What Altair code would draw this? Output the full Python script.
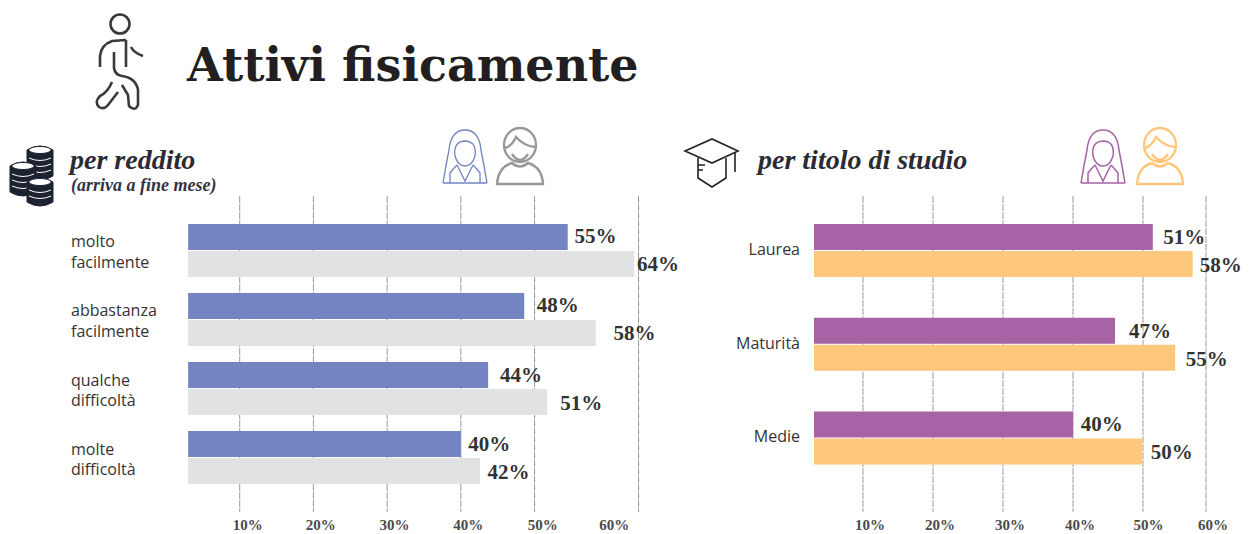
import re
import altair as alt
import pandas as pd

# ---------- data ----------
inc_cats = ["molto\nfacilmente", "abbastanza\nfacilmente", "qualche\ndifficoltà", "molte\ndifficoltà"]
inc_f_bar = [54.5, 48.6, 43.7, 40.0]
inc_m_bar = [63.5, 58.3, 51.7, 42.6]
inc_f_lab = ["55%", "48%", "44%", "40%"]
inc_m_lab = ["64%", "58%", "51%", "42%"]
inc_f_pos = [55.4, 50.3, 45.3, 41.0]
inc_m_pos = [63.9, 60.7, 53.5, 43.6]
inc_grid = [10, 20, 30, 40, 50, 64.1]
inc_tick_pos = [11.1, 21, 31, 41, 51.1, 60.8]

edu_cats = ["Laurea", "Maturità", "Medie"]
edu_f_bar = [51.4, 46.0, 40.0]
edu_m_bar = [57.1, 54.6, 49.9]
edu_f_lab = ["51%", "47%", "40%"]
edu_m_lab = ["58%", "55%", "50%"]
edu_f_pos = [52.9, 48.0, 41.1]
edu_m_pos = [58.1, 56.1, 51.1]
edu_grid = [10, 20, 30, 40, 50, 59]
edu_tick_pos = [11, 21, 31, 41, 50.8, 60]

tick_text = ["10%", "20%", "30%", "40%", "50%", "60%"]
INK = "#231f20"
SERIF = "Liberation Serif"
SLAB = "DejaVu Serif"
SANS = "Open Sans"
ONE = pd.DataFrame({"a": [0]})
TOP, OX, W, H = 8, 8, 1234, 526


def norm_icon(path, color, sw=1.5, fill=None):
    """Turn a path written in page pixels into a unit shape drawn by a point mark."""
    nums = [float(n) for n in re.findall(r"-?\d+\.?\d*", path)]
    xs, ys = nums[0::2], nums[1::2]
    cx, cy = (min(xs) + max(xs)) / 2, (min(ys) + max(ys)) / 2
    half = max(max(xs) - min(xs), max(ys) - min(ys)) / 2
    it = iter(nums)

    def rep(_m):
        x = next(it)
        y = next(it)
        return f"{(x - cx) / half:.4f},{(y - cy) / half:.4f}"

    s = re.sub(r"-?\d+\.?\d*\s*,\s*-?\d+\.?\d*", rep, path)
    kw = dict(shape=s, size=(2 * half) ** 2, opacity=1)
    if fill:
        kw.update(filled=True, fill=fill, stroke=color, strokeWidth=sw)
    else:
        kw.update(filled=False, stroke=color, strokeWidth=sw, fill="transparent")
    return alt.Chart(ONE).mark_point(**kw).encode(x=alt.value(cx - OX), y=alt.value(cy - TOP))


def circle(x, y, r, ry=None):
    ry = ry or r
    k = 0.55
    return (f"M{x-r},{y} C{x-r},{y-k*ry} {x-k*r},{y-ry} {x},{y-ry} C{x+k*r},{y-ry} {x+r},{y-k*ry} {x+r},{y} "
            f"C{x+r},{y+k*ry} {x+k*r},{y+ry} {x},{y+ry} C{x-k*r},{y+ry} {x-r},{y+k*ry} {x-r},{y} Z")


def female(c):
    def X(d):
        return c + d
    return (f"M{X(-22)},183 L{X(22)},183 "
            f"M{X(-22)},183 Q{X(-19)},165 {X(-16)},150 Q{X(-14)},130 {c},130 Q{X(14)},130 {X(16)},150 Q{X(19)},165 {X(22)},183 "
            f"M{X(-10)},156 Q{X(-12)},141 {X(1)},141 Q{X(12)},142 {X(10)},156 Q{X(7)},166 {c},166 Q{X(-7)},166 {X(-10)},156 Z "
            f"M{X(-8)},165 L{c},181 L{X(8)},165 "
            f"M{X(-15)},183 L{X(-15)},173 Q{X(-12)},169 {X(-8)},165 M{X(15)},183 L{X(15)},173 Q{X(12)},169 {X(8)},165")


def male(c):
    def X(d):
        return c + d
    return (circle(c, 145, 16, 17) +
            f" M{X(-23)},184 Q{X(-22)},167 {X(-8)},163 Q{c},170 {X(8)},163 Q{X(22)},167 {X(23)},184 Z "
            f"M{X(-15)},148 Q{X(-8)},146 {X(-4)},137 Q{X(4)},146 {X(15)},147 "
            f"M{X(-8)},154 Q{c},166 {X(8)},154")


walker = (circle(120, 24, 9.5) +
          " M126,40 L112,41 Q101,45 100,56 L100,67 M126,40 L126,67 "
          "M131,47 Q134,53 143,56 "
          "M114,52 L114,68 Q115,75 122,76 Q136,78 138,90 L138,105 Q135,112 129,106 L128,95 L122,85 "
          "M112,82 Q108,92 100,96 Q94,102 99,107 Q104,110 108,105 L118,92")

cap = ("M685,151 L712,139 L738,151 L712,163 Z M698,158 L698,178 L712,187 L726,178 L726,158 "
       "M735,153 L735,172 M698,165 L705,165 M698,170 L703,170")


def coin_stack(x, top, bottom, r=13):
    body = (f"M{x-r},{top} L{x-r},{bottom} Q{x},{bottom+8} {x+r},{bottom} L{x+r},{top} Q{x},{top-8} {x-r},{top} Z")
    lines = " ".join(f"M{x-r+2},{y} Q{x},{y+5} {x+r-2},{y}" for y in range(top + 8, bottom, 6))
    return [norm_icon(body, "#1d2230", 1, "#1d2230"),
            norm_icon(lines, "#ffffff", 1),
            norm_icon(circle(x, top, r - 2, 3.5), "#1d2230", 1, "#ffffff")]


def label(text, x, y, **kw):
    return alt.Chart(ONE).mark_text(text=text, align="left", baseline="alphabetic", **kw).encode(
        x=alt.value(x - OX), y=alt.value(y - TOP))


def panel(cats, f_bar, m_bar, f_lab, m_lab, f_pos, m_pos, grid, tick_pos, c_f, c_m,
          x_range, y_range, pad_inner, cat_x, cat_align, grid_top, grid_bot, tick_y, cat_dy):
    rows = []
    for i, c in enumerate(cats):
        rows.append(dict(cat=c, g="F", v=f_bar[i], lab=f_lab[i], pos=f_pos[i], start=3))
        rows.append(dict(cat=c, g="M", v=m_bar[i], lab=m_lab[i], pos=m_pos[i], start=3))
    df = pd.DataFrame(rows)
    xs = alt.Scale(domain=[0, 70], range=x_range, nice=False, zero=False)
    ys = alt.Scale(type="band", domain=cats, range=y_range, paddingInner=pad_inner, paddingOuter=0)
    gs = alt.Scale(domain=["F", "M"], paddingInner=0.04, paddingOuter=0)
    Y = alt.Y("cat:N", scale=ys, axis=None)
    YO = alt.YOffset("g:N", scale=gs)

    rule = alt.Chart(pd.DataFrame({"x": grid})).mark_rule(
        color="#9a9b9d", strokeWidth=1, strokeDash=[7, 1]
    ).encode(x=alt.X("x:Q", scale=xs, axis=None),
             y=alt.value(grid_top - TOP), y2=alt.value(grid_bot - TOP))
    bars = alt.Chart(df).mark_bar(strokeWidth=0).encode(
        x=alt.X("start:Q", scale=xs, axis=None), x2="v:Q", y=Y, yOffset=YO,
        color=alt.Color("g:N", scale=alt.Scale(domain=["F", "M"], range=[c_f, c_m]), legend=None))

    def vals(group, dy):
        return alt.Chart(df[df.g == group]).mark_text(
            align="left", baseline="middle", font=SERIF, fontWeight="bold",
            fontSize=21, color="#333333", dy=dy).encode(
            x=alt.X("pos:Q", scale=xs, axis=None), y=Y, text="lab:N")

    catl = alt.Chart(pd.DataFrame({"cat": cats})).mark_text(
        align=cat_align, baseline="middle", font=SANS, fontSize=16, color="#333333",
        lineBreak="\n", lineHeight=20.5, dy=cat_dy).encode(x=alt.value(cat_x), y=Y, text="cat:N")
    ticks = alt.Chart(pd.DataFrame({"x": tick_pos, "t": tick_text})).mark_text(
        font=SERIF, fontWeight="bold", fontSize=15, color="#4a4a4a", baseline="middle").encode(
        x=alt.X("x:Q", scale=xs, axis=None), y=alt.value(tick_y - TOP), text="t:N")
    return [rule, bars, vals("F", -13), vals("M", 15), catl, ticks]


left = panel(inc_cats, inc_f_bar, inc_m_bar, inc_f_lab, inc_m_lab, inc_f_pos, inc_m_pos,
             inc_grid, inc_tick_pos, "#7484c2", "#e1e2e4",
             [158, 674], [216, 476], 0.232, 63, "left", 196, 512, 525, -8)
right = panel(edu_cats, edu_f_bar, edu_m_bar, edu_f_lab, edu_m_lab, edu_f_pos, edu_m_pos,
              edu_grid, edu_tick_pos, "#a763a6", "#fec87c",
              [785, 1275], [216, 457], 0.43, 792, "right", 196, 512, 525, -1)

deco = [
    norm_icon(walker, "#3a3a3c", 2.6),
    label("Attivi fisicamente", 187, 81, font=SLAB, fontWeight="bold", fontSize=46, color=INK),
    label("per reddito", 70, 169, font=SERIF, fontWeight="bold", fontStyle="italic", fontSize=28, color="#2b2b33"),
    label("(arriva a fine mese)", 71, 191, font=SERIF, fontWeight="bold", fontStyle="italic", fontSize=18, color="#333344"),
    norm_icon(female(465), "#7484c2", 1.3),
    norm_icon(male(520), "#999999", 2.4),
]
deco += coin_stack(40, 150, 176) + coin_stack(23, 166, 192) + coin_stack(40, 182, 202)
deco += [
    norm_icon(cap, "#222222", 1.6),
    label("per titolo di studio", 758, 169, font=SERIF, fontWeight="bold", fontStyle="italic", fontSize=28, color="#2b2b33"),
    norm_icon(female(1103), "#a763a6", 1.5),
    norm_icon(male(1160), "#fec87c", 2.4),
]

chart = (
    alt.layer(*left, *right, *deco)
    .resolve_scale(x="independent", y="independent", color="independent")
    .properties(width=W, height=H, padding=0, background="white",
                autosize=alt.AutoSizeParams(type="none"))
    .configure_view(stroke=None)
)
chart.save("out.html", embed_options={"renderer": "svg", "actions": False})
